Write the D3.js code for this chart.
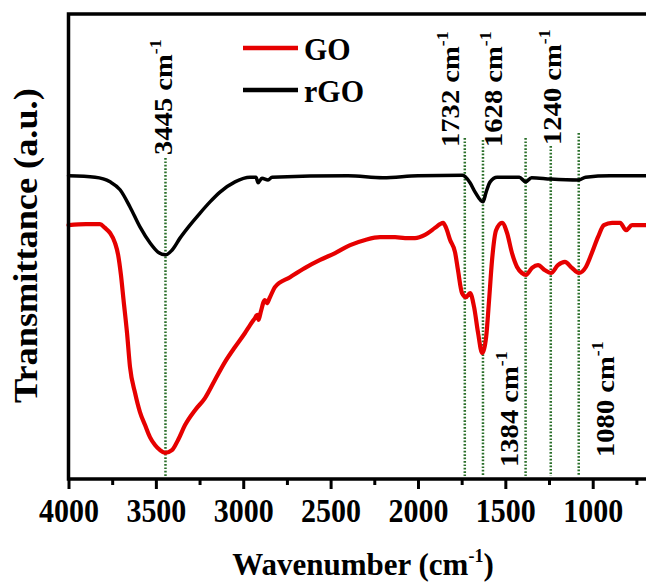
<!DOCTYPE HTML>
<html lang="en">
	<head>
		<meta charset="UTF-8">
		<style>
			body { margin: 0; background: #fff; }
			svg { display: block; }
			text { font-family: "Liberation Serif", "Times New Roman", serif; font-weight: bold; fill: #000; }
			.spec { fill: none; stroke-linejoin: round; stroke-linecap: round; }
			.guide { stroke: #2a6f2a; stroke-width: 2.5; stroke-dasharray: 1.7,1.7; }
			.frame { stroke: #000; stroke-width: 3.5; fill: none; }
		</style>
	</head>
	<body>
		<script src="https://d3js.org/d3.v7.min.js"></script>
		<script>
			// GO spectrum (wavenumber, transmittance in arbitrary units)
			var waveGO = [4000,3900,3820,3791,3762,3734,3716,3700,3685,3665,3648,3619,3591,3562,3534,3505,3476,3448,3408,3373,3333,3276,3219,3162,3104,3047,2990,2961,2933,2920,2912,2900,2876,2865,2847,2818,2732,2646,2560,2474,2388,2302,2217,2131,2074,2017,1960,1903,1874,1856,1839,1816,1788,1771,1748,1725,1702,1679,1656,1633,1610,1593,1576,1553,1519,1490,1462,1433,1405,1382,1347,1313,1273,1239,1199,1159,1119,1079,1039,1005,970,936,889,843,809,775,729,695];
			var transGO = [54.6,54.8,54.8,54.0,52.9,50.8,48.2,43.9,38.5,31.4,24.1,18.5,14.4,11.6,9.0,7.3,6.2,5.6,6.2,8.4,11.6,14.8,17.4,21.3,25.2,28.4,31.4,33.1,34.6,35.3,34.2,35.9,38.5,37.8,39.1,41.3,43.4,45.4,47.1,48.6,50.3,51.4,52.0,52.0,51.8,51.8,52.5,54.0,54.8,55.1,54.0,51.4,48.8,44.9,40.0,39.1,40.0,37.0,31.4,27.1,30.5,38.5,47.1,53.5,55.1,52.9,48.6,45.6,44.3,43.9,45.4,46.0,44.9,44.3,46.0,46.7,45.4,44.3,45.6,48.6,52.0,54.6,55.1,55.1,53.5,54.6,54.6,54.6];

			// rGO spectrum
			var waveRGO = [4000,3848,3762,3705,3648,3591,3534,3488,3445,3408,3362,3305,3247,3190,3133,3047,2961,2927,2915,2893,2858,2835,2400,2200,2000,1745,1702,1673,1628,1610,1587,1547,1420,1384,1350,1240,1080,1040,900,695];
			var transRGO = [65.2,64.9,63.9,62.2,58.5,54.2,50.8,48.8,48.2,49.2,51.8,54.6,57.2,59.6,61.7,63.9,64.9,64.9,63.7,64.7,64.3,64.9,65.2,64.8,65.2,65.3,63.7,61.7,59.6,61.7,63.9,64.9,64.9,63.9,64.8,64.5,64.3,64.9,65.2,65.2];

			var peaks = [3445, 1732, 1628, 1384, 1240, 1080];
			var xTicks = [4000, 3500, 3000, 2500, 2000, 1500, 1000];
			var xMinor = [3750, 3250, 2750, 2250, 1750, 1250, 750];
			var seriesNames = ["GO", "rGO"];
			var seriesColors = ["#e60000", "#000000"];

			var width = 646, height = 582
				,mLeft = 68.5, mTop = 14, mBottom = 479;

			// where each peak label sits (dx from the guide, bottom of the text, top of the guide)
			var labelLayout = [
				{dx: 6.5, y: 155, top: 158},
				{dx: -6, y: 147, top: 138},
				{dx: 19, y: 147, top: 140},
				{dx: -8, y: 467, top: 138},
				{dx: 10, y: 145, top: 146},
				{dx: 35, y: 457, top: 133}
			];

			var svg = d3.select("body").append("svg").attr("width", width).attr("height", height);

			var x = d3.scaleLinear().domain([4000, 695]).range([mLeft, width]);
			var y = d3.scaleLinear().domain([0, 100]).range([mBottom, mTop]);

			// dotted guides
			svg.selectAll(".guide").data(peaks).enter().append("line")
				.attr("class", "guide")
				.attr("x1", function(d){ return x(d); })
				.attr("x2", function(d){ return x(d); })
				.attr("y1", function(d, i){ return labelLayout[i].top; })
				.attr("y2", mBottom - 3);

			var line = d3.line()
				.x(function(d){ return x(d[0]); })
				.y(function(d){ return y(d[1]); })
				.curve(d3.curveMonotoneX);

			svg.append("path").attr("class", "spec")
				.attr("d", line(d3.zip(waveRGO, transRGO)))
				.attr("stroke", seriesColors[1]).attr("stroke-width", 3.5);
			svg.append("path").attr("class", "spec")
				.attr("d", line(d3.zip(waveGO, transGO)))
				.attr("stroke", seriesColors[0]).attr("stroke-width", 4.2);

			// frame: left, top, bottom
			svg.append("path").attr("class", "frame")
				.attr("d", "M" + width + "," + mTop + "H" + mLeft + "V" + mBottom + "H" + width);

			// x axis
			var gx = svg.append("g").attr("transform", "translate(0," + mBottom + ")");
			gx.call(d3.axisBottom(x).tickValues(xTicks).tickSize(10).tickFormat(d3.format("d")));
			gx.select(".domain").remove();
			gx.selectAll(".tick line").attr("stroke", "#000").attr("stroke-width", 3);
			gx.selectAll(".tick text")
				.attr("y", 0).attr("dy", null)
				.attr("transform", "translate(0,43) scale(1,1.1)")
				.style("font-size", "30px");
			var gm = svg.append("g").attr("transform", "translate(0," + mBottom + ")");
			gm.call(d3.axisBottom(x).tickValues(xMinor).tickSize(6).tickFormat(""));
			gm.select(".domain").remove();
			gm.selectAll(".tick line").attr("stroke", "#000").attr("stroke-width", 3);

			// axis titles
			var xt = svg.append("text").attr("x", 363).attr("y", 575)
				.attr("text-anchor", "middle").style("font-size", "31px");
			xt.append("tspan").text("Wavenumber (cm");
			xt.append("tspan").attr("dy", -13).style("font-size", "18px").text("-1");
			xt.append("tspan").attr("dy", 13).text(")");

			svg.append("text")
				.attr("transform", "translate(37,403) scale(1,1.1) rotate(-90)")
				.style("font-size", "33px")
				.text("Transmittance (a.u.)");

			// peak labels
			var lab = svg.selectAll(".plab").data(peaks).enter().append("text")
				.attr("class", "plab")
				.attr("transform", function(d, i){
					return "translate(" + (x(d) + labelLayout[i].dx) + "," + labelLayout[i].y + ") scale(1,1.1) rotate(-90)";
				})
				.style("font-size", "26px");
			lab.append("tspan").text(function(d){ return d + " cm"; });
			lab.append("tspan").attr("dy", -11).style("font-size", "16px").text("-1");

			// legend
			var leg = svg.selectAll(".leg").data(seriesNames).enter().append("g")
				.attr("class", "leg")
				.attr("transform", function(d, i){ return "translate(243," + (48 + i * 42) + ")"; });
			leg.append("line").attr("x1", 0).attr("x2", 55)
				.attr("stroke", function(d, i){ return seriesColors[i]; })
				.attr("stroke-width", 4.5);
			leg.append("text").attr("x", 61).attr("y", 11)
				.attr("transform", "scale(1,1.05)")
				.style("font-size", "30px")
				.text(function(d){ return d; });
		</script>
	</body>
</html>
